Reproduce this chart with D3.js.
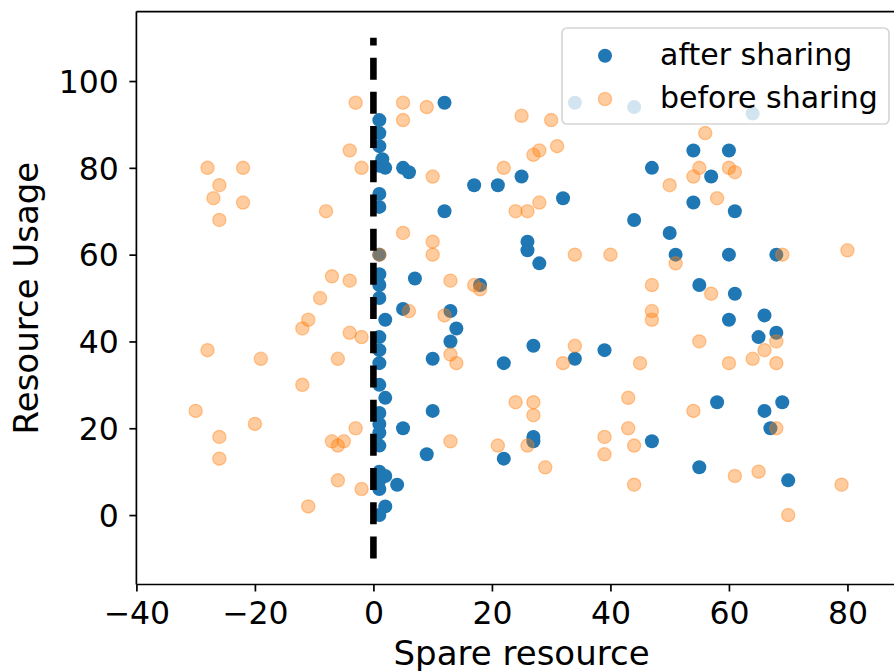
<!DOCTYPE html>
<html>
<head>
<meta charset="utf-8">
<script src="https://cdn.jsdelivr.net/npm/d3@7"></script>
<style>
  html, body { margin: 0; padding: 0; background: #fff; }
  svg { display: block; font-family: "DejaVu Sans", sans-serif; }
</style>
</head>
<body>
<svg id="chart" width="894" height="671"></svg>
<script>
// ---- data ----
const seriesNames = ["after sharing", "before sharing"];

const afterX = [1, 1, 1, 1.5, 1, 2, 1, 1, 1, 1, 1, 1, 2, 1, 1, 1, 1, 2, 1, 1, 1, 1, 1, 2, 1, 1, 2, 1,
  5, 6, 12, 17, 21, 25, 12, 32, 26, 26, 28, 7, 18, 5, 13, 14, 13, 10, 22, 27, 34, 39, 10, 5, 27, 27, 9, 22, 4,
  34, 44, 64,
  54, 60, 47, 57, 54, 61, 44, 50, 51, 60, 68, 55, 61, 60, 66, 65, 68, 58, 66, 69, 67, 47, 55, 70];
const afterY = [91, 88, 85, 82, 80.5, 80, 74, 71, 60, 55.5, 53, 50, 45, 41, 38, 35, 30, 27, 23.5, 21, 19, 16, 10, 9, 8, 6, 2, 0,
  80, 79, 95, 76, 76, 78, 70, 73, 63, 61, 58, 54.5, 53, 47.5, 47, 43, 40, 36, 35, 39, 36, 38, 24, 20, 18, 17, 14, 13, 7,
  95, 94, 92.5,
  84, 84, 80, 78, 72, 70, 68, 65, 60, 60, 60, 53, 51, 45, 46, 41, 42, 26, 24, 26, 20, 17, 11, 8];

const beforeX = [-3, 5, 9, 5, -4, -2, -28, -22, -26, -27, -22, -26, -8, 10, 22, 25, 30, 31, 28, 27, 24, 26, 28,
  5, 10, 10, 1, 34, 40, 13, 17, 18, -7, -4, -9, -11, -12, -4, -2, 6, 12, 13, 14, 32, 34,
  -28, -19, -6, -12, -30, -20, -3, -26, -7, -5, -6, -26, -6, -2, -11,
  24, 27, 27, 43, 43, 13, 26, 21, 29, 39, 39, 44, 44,
  56, 55, 60, 61, 54, 50, 58, 51, 69, 80, 47, 57, 47, 47, 68, 55, 66, 45, 60, 64, 68, 54, 68, 61, 65, 79, 70];
const beforeY = [95, 95, 94, 91, 84, 80, 80, 80, 76, 73, 72, 68, 70, 78, 80, 92, 91, 85, 84, 83, 70, 70, 72,
  65, 63, 60, 60, 60, 60, 54, 53, 52, 55, 54, 50, 45, 43, 42, 41, 47, 46, 37, 35, 35, 39,
  38, 36, 36, 30, 24, 21, 20, 18, 17, 17, 16, 13, 8, 6, 2,
  26, 26, 23, 27, 20, 17, 16, 16, 11, 18, 14, 16, 7,
  88, 80, 80, 79, 78, 76, 73, 58, 60, 61, 53, 51, 47, 45, 40, 40, 38, 35, 35, 36, 35, 24, 20, 9, 10, 7, 0];

const refLineX = [0, 0];
const refLineY = [-10, 110];

const xTicks = [-40, -20, 0, 20, 40, 60, 80];
const yTicks = [0, 20, 40, 60, 80, 100];
const xDomain = [-40, 90];
const yDomain = [-16, 116];

// ---- layout ----
const svg = d3.select("#chart");
const pL = 136.4, pR = 906.7, pT = 11.6, pB = 584.5;

const x = d3.scaleLinear().domain(xDomain).range([pL, pR]);
const y = d3.scaleLinear().domain(yDomain).range([pB, pT]);

const blue = "#1f77b4", orange = "#ff7f0e";

svg.append("defs").append("clipPath").attr("id", "plotclip")
  .append("rect").attr("x", pL).attr("y", pT).attr("width", pR - pL).attr("height", pB - pT);

const plot = svg.append("g").attr("clip-path", "url(#plotclip)");

const afterPts = afterX.map((v, i) => [v, afterY[i]]);
const beforePts = beforeX.map((v, i) => [v, beforeY[i]]);

plot.selectAll("circle.after").data(afterPts).enter().append("circle")
  .attr("class", "after")
  .attr("cx", d => x(d[0])).attr("cy", d => y(d[1])).attr("r", 7)
  .attr("fill", blue);

plot.selectAll("circle.before").data(beforePts).enter().append("circle")
  .attr("class", "before")
  .attr("cx", d => x(d[0])).attr("cy", d => y(d[1])).attr("r", 6.6)
  .attr("fill", orange).attr("fill-opacity", 0.4)
  .attr("stroke", orange).attr("stroke-opacity", 0.4).attr("stroke-width", 1.3);

// dashed reference line (drawn from bottom up)
plot.append("path")
  .attr("d", d3.line().x(d => x(d[0])).y(d => y(d[1]))([[refLineX[0], refLineY[0]], [refLineX[1], refLineY[1]]]))
  .attr("stroke", "#000").attr("stroke-width", 6.6).attr("fill", "none")
  .attr("stroke-dasharray", "22,12.2");

// ---- axes ----
const xAxis = d3.axisBottom(x).tickValues(xTicks).tickSize(7).tickPadding(10);
const yAxis = d3.axisLeft(y).tickValues(yTicks).tickSize(7).tickPadding(10.5);

const gx = svg.append("g").attr("transform", `translate(0,${pB})`).call(xAxis);
const gy = svg.append("g").attr("transform", `translate(${pL},0)`).call(yAxis);

[gx, gy].forEach(g => {
  g.select(".domain").remove();
  g.selectAll(".tick line").attr("stroke", "#000").attr("stroke-width", 1.7);
  g.selectAll(".tick text").attr("fill", "#000").style("font-size", "31.5px")
    .style("font-family", "'DejaVu Sans', sans-serif");
});
gy.selectAll(".tick text").attr("dy", "0.36em");

// spines
const spine = (x1, y1, x2, y2) => svg.append("line").attr("x1", x1).attr("y1", y1).attr("x2", x2).attr("y2", y2)
  .attr("stroke", "#000").attr("stroke-width", 1.7);
spine(pL, pT, pL, pB);
spine(pL, pB, pR, pB);
spine(pL, pT, pR, pT);
spine(pR, pT, pR, pB);

// axis labels
svg.append("text").attr("x", (pL + pR) / 2).attr("y", 665)
  .attr("text-anchor", "middle").style("font-size", "34px").attr("fill", "#000")
  .text("Spare resource");
svg.append("text").attr("transform", `translate(38,${(pT + pB) / 2}) rotate(-90)`)
  .attr("text-anchor", "middle").style("font-size", "34px").attr("fill", "#000")
  .text("Resource Usage");

// ---- legend ----
const lg = svg.append("g");
lg.append("rect").attr("x", 562).attr("y", 28).attr("width", 327).attr("height", 96).attr("rx", 5)
  .attr("fill", "#fff").attr("fill-opacity", 0.8)
  .attr("stroke", "#cccccc").attr("stroke-opacity", 0.8).attr("stroke-width", 1.7);
const legendItems = [
  { name: seriesNames[0], color: blue, op: 1, cy: 55.7 },
  { name: seriesNames[1], color: orange, op: 0.4, cy: 99 }
];
legendItems.forEach(it => {
  lg.append("circle").attr("cx", 605).attr("cy", it.cy).attr("r", it.op === 1 ? 7 : 6.6)
    .attr("fill", it.color).attr("fill-opacity", it.op)
    .attr("stroke", it.op === 1 ? "none" : it.color).attr("stroke-opacity", it.op).attr("stroke-width", 1.3);
  lg.append("text").attr("x", 660).attr("y", it.cy + 9).style("font-size", "30px").attr("fill", "#000")
    .text(it.name);
});
</script>
</body>
</html>
